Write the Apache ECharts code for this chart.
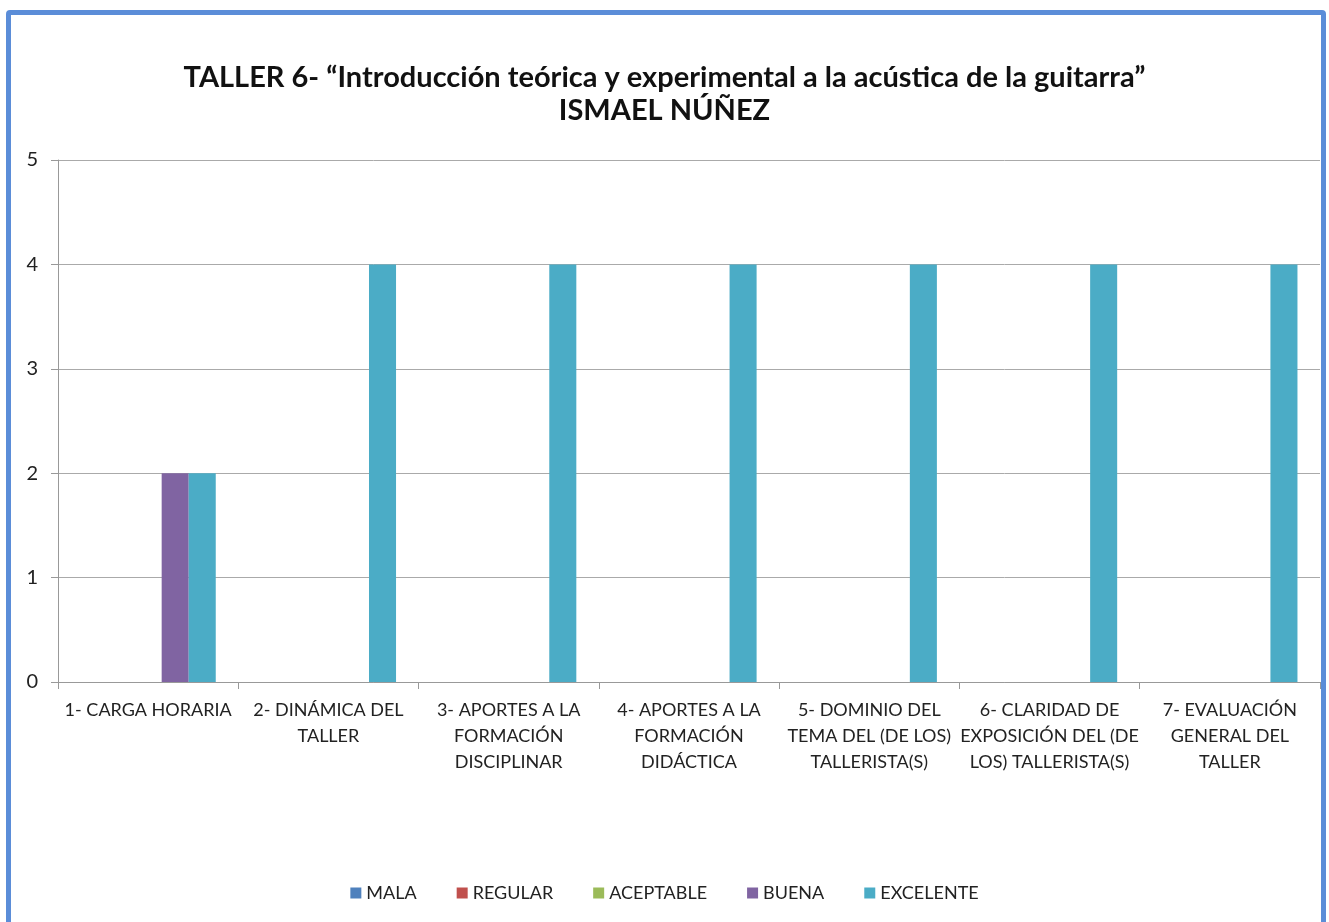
<!DOCTYPE html>
<html>
<head>
<meta charset="utf-8">
<script src="https://cdn.jsdelivr.net/npm/echarts@6/dist/echarts.min.js"></script>
<style>
    html, body { margin: 0; padding: 0; background: #fff; }
    #chart { width: 1329px; height: 922px; }
    .frame {
        position: absolute;
        left: 6px;
        top: 10px;
        width: 1310px;
        height: 930px;
        border: 5px solid #5b8dd8;
        border-radius: 4px;
        pointer-events: none;
    }
</style>
</head>
<body>
<div id="chart"></div>
<div class="frame"></div>
<script>
const categories = [
    '1- CARGA HORARIA',
    '2- DINÁMICA DEL\nTALLER',
    '3- APORTES A LA\nFORMACIÓN\nDISCIPLINAR',
    '4- APORTES A LA\nFORMACIÓN\nDIDÁCTICA',
    '5- DOMINIO DEL\nTEMA DEL (DE LOS)\nTALLERISTA(S)',
    '6- CLARIDAD DE\nEXPOSICIÓN DEL (DE\nLOS) TALLERISTA(S)',
    '7- EVALUACIÓN\nGENERAL DEL\nTALLER'
]
const seriesNames = ['MALA', 'REGULAR', 'ACEPTABLE', 'BUENA', 'EXCELENTE']
const seriesColors = ['#4f81bd', '#c0504d', '#9bbb59', '#8064a2', '#4bacc6']
const mala = [0, 0, 0, 0, 0, 0, 0]
const regular = [0, 0, 0, 0, 0, 0, 0]
const aceptable = [0, 0, 0, 0, 0, 0, 0]
const buena = [2, 0, 0, 0, 0, 0, 0]
const excelente = [2, 4, 4, 4, 4, 4, 4]
const yTicks = [0, 1, 2, 3, 4, 5]

const values = [mala, regular, aceptable, buena, excelente]
const font = 'Lato, "Open Sans", sans-serif'

const chart = echarts.init(document.getElementById('chart'))

chart.setOption({
    animation: false,
    textStyle: { fontFamily: font },
    title: {
        text: 'TALLER 6- “Introducción teórica y experimental a la acústica de la guitarra”\nISMAEL NÚÑEZ',
        left: 'center',
        top: 56,
        textStyle: {
            fontFamily: font,
            fontSize: 29,
            fontWeight: 'bold',
            lineHeight: 33,
            color: '#111'
        }
    },
    legend: {
        bottom: 15,
        left: 'center',
        itemWidth: 11,
        itemHeight: 11,
        itemGap: 40,
        icon: 'rect',
        textStyle: { fontFamily: font, fontSize: 18, color: '#222' },
        data: seriesNames
    },
    grid: { left: 58, right: 9, top: 160, bottom: 240 },
    xAxis: {
        type: 'category',
        data: categories,
        axisLine: { lineStyle: { color: '#999' } },
        axisTick: { show: true, length: 7, lineStyle: { color: '#999' } },
        axisLabel: {
            interval: 0,
            margin: 15,
            fontSize: 18,
            lineHeight: 26,
            color: '#222',
            fontFamily: font
        }
    },
    yAxis: {
        type: 'value',
        min: yTicks[0],
        max: yTicks[yTicks.length - 1],
        interval: 1,
        axisLine: { show: true, lineStyle: { color: '#999' } },
        axisTick: { show: true, length: 7, lineStyle: { color: '#999' } },
        axisLabel: { margin: 20, fontSize: 20, color: '#222', fontFamily: font },
        splitLine: { lineStyle: { color: '#aaa' } }
    },
    series: seriesNames.map((name, i) => ({
        name: name,
        type: 'bar',
        data: values[i],
        barGap: '0%',
        barCategoryGap: '25%',
        itemStyle: { color: seriesColors[i] }
    }))
})
</script>
</body>
</html>
